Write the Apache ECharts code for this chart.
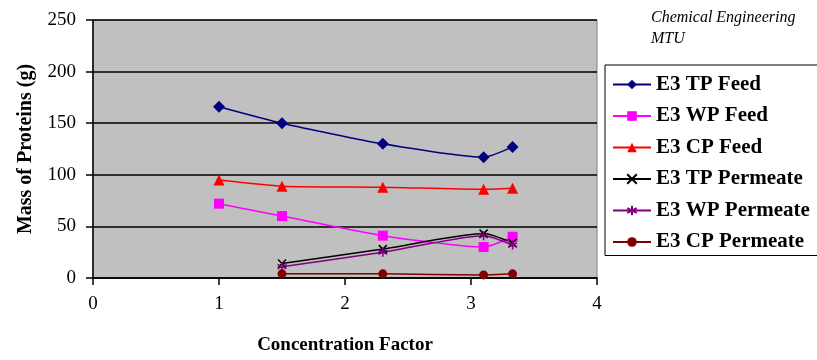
<!DOCTYPE html>
<html>
<head>
<meta charset="utf-8">
<script src="https://cdn.jsdelivr.net/npm/echarts@6/dist/echarts.min.js"></script>
<style>
  html, body { margin: 0; padding: 0; background: #fff; }
  #chart { width: 817px; height: 360px; }
</style>
</head>
<body>
<div id="chart"></div>
<script>
// concentration factor (x) for feed and permeate samples
var feedX = [1.0, 1.5, 2.3, 3.1, 3.33];
var permeateX = [1.5, 2.3, 3.1, 3.33];

// mass of proteins (g)
var tpFeed = [166, 150, 130, 117, 127];
var wpFeed = [72, 60, 41, 30, 40];
var cpFeed = [95, 89, 88, 86, 87];
var tpPermeate = [14, 28, 43, 34];
var wpPermeate = [11, 25, 41, 32];
var cpPermeate = [4, 4, 3, 4];

var xTicks = [0, 1, 2, 3, 4];
var yTicks = [0, 50, 100, 150, 200, 250];

var serifFont = "'Liberation Serif', 'Times New Roman', serif";

function pairs(xs, ys) {
    var out = [];
    for (var i = 0; i < ys.length; i++) {
        out.push([xs[i], ys[i]]);
    }
    return out;
}

var crossPath = 'path://M0,0L10,10M10,0L0,10';
var starPath = 'path://M5,0L5,10M0,2.5L10,7.5M0,7.5L10,2.5';

function makeSeries(name, xs, ys, color, symbol, size, stroked) {
    var s = {
        name: name,
        type: 'line',
        data: pairs(xs, ys),
        smooth: 0.2,
        symbol: symbol,
        symbolSize: size,
        lineStyle: { color: color, width: 1.5 },
        itemStyle: { color: color }
    };
    if (stroked) {
        s.itemStyle = { color: color, borderColor: color, borderWidth: 1.5 };
    }
    return s;
}

var myChart = echarts.init(document.getElementById('chart'));

var option = {
    backgroundColor: '#ffffff',
    animation: false,
    title: {
        text: 'Chemical Engineering\nMTU',
        left: 646,
        top: 2,
        textStyle: {
            fontFamily: serifFont,
            fontStyle: 'italic',
            fontWeight: 'normal',
            fontSize: 16,
            lineHeight: 21,
            color: '#000'
        }
    },
    legend: {
        orient: 'vertical',
        left: 605,
        top: 65,
        padding: [9, 30, 3, 7],
        itemWidth: 38,
        itemHeight: 12,
        itemGap: 10.5,
        backgroundColor: '#ffffff',
        borderColor: '#000',
        borderWidth: 1,
        textStyle: {
            fontFamily: serifFont,
            fontWeight: 'bold',
            fontSize: 21,
            lineHeight: 20,
            color: '#000'
        }
    },
    grid: {
        left: 93,
        right: 220,
        top: 20,
        bottom: 81,
        show: true,
        backgroundColor: '#c0c0c0',
        borderColor: '#808080',
        borderWidth: 1
    },
    xAxis: {
        type: 'value',
        min: xTicks[0],
        max: xTicks[xTicks.length - 1],
        interval: 1,
        name: 'Concentration Factor',
        nameLocation: 'middle',
        nameGap: 58,
        nameTextStyle: {
            fontFamily: serifFont,
            fontWeight: 'bold',
            fontSize: 19,
            color: '#000'
        },
        axisLine: { show: true, lineStyle: { color: '#000', width: 1.5 } },
        axisTick: { show: true, length: 7, lineStyle: { color: '#000', width: 1.5 } },
        axisLabel: {
            margin: 17,
            fontFamily: serifFont,
            fontSize: 19,
            color: '#000'
        },
        splitLine: { show: false }
    },
    yAxis: {
        type: 'value',
        min: yTicks[0],
        max: yTicks[yTicks.length - 1],
        interval: 50,
        name: 'Mass of Proteins (g)',
        nameLocation: 'middle',
        nameGap: 57,
        nameTextStyle: {
            fontFamily: serifFont,
            fontWeight: 'bold',
            fontSize: 20,
            color: '#000'
        },
        axisLine: { show: true, lineStyle: { color: '#000', width: 1.5 } },
        axisTick: { show: true, length: 7, lineStyle: { color: '#000', width: 1.5 } },
        axisLabel: {
            margin: 17,
            fontFamily: serifFont,
            fontSize: 19,
            color: '#000'
        },
        splitLine: { show: true, lineStyle: { color: '#000', width: 1.5 } }
    },
    series: [
        makeSeries('E3 TP Feed', feedX, tpFeed, '#000080', 'diamond', 12, false),
        makeSeries('E3 WP Feed', feedX, wpFeed, '#ff00ff', 'rect', 10, false),
        makeSeries('E3 CP Feed', feedX, cpFeed, '#ff0000', 'triangle', 11, false),
        makeSeries('E3 TP Permeate', permeateX, tpPermeate, '#000000', crossPath, 8, true),
        makeSeries('E3 WP Permeate', permeateX, wpPermeate, '#800080', starPath, 9, true),
        makeSeries('E3 CP Permeate', permeateX, cpPermeate, '#800000', 'circle', 9, false)
    ]
};

myChart.setOption(option);
</script>
</body>
</html>
